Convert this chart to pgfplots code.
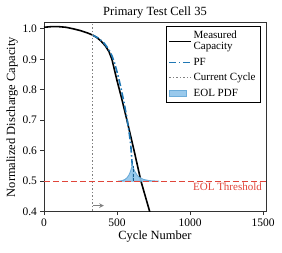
\documentclass[border=0pt]{standalone}
\usepackage{pgfplots}
\pgfplotsset{compat=1.18}
\usepackage{fontspec}
\setmainfont{Liberation Serif}
\definecolor{pfblue}{HTML}{1F77B4}
\definecolor{pdfblue}{HTML}{8EC4EA}
\definecolor{eolred}{HTML}{E0453A}
\begin{document}
\begin{tikzpicture}
\begin{axis}[
  scale only axis, width=222pt, height=189pt,
  xmin=0, xmax=1520, ymin=0.4, ymax=1.02,
  xtick={0,500,1000,1500}, ytick={0.4,0.5,0.6,0.7,0.8,0.9,1.0},
  xticklabel style={/pgf/number format/.cd, set thousands separator={}},
  yticklabel style={/pgf/number format/.cd, fixed, fixed zerofill, precision=1},
  /pgf/number format/assume math mode=true,
  tick align=outside, xtick pos=bottom, ytick pos=left,
  major tick length=3.5pt,
  ticklabel style={font=\fontsize{11.5}{13}\selectfont},
  axis line style={black!80, line width=0.8pt},
  every tick/.style={black!80, line width=0.7pt},
  title={Primary Test Cell 35}, title style={font=\fontsize{12.5}{14}\selectfont, yshift=-5pt},
  xlabel={Cycle Number}, ylabel={Normalized Discharge Capacity},
  label style={font=\fontsize{12.5}{14}\selectfont},
  xlabel style={yshift=3pt}, ylabel style={yshift=-2pt},
  legend style={at={(rel axis cs:0.975,0.98)}, anchor=north east, font=\fontsize{11}{11}\selectfont,
    draw=black, line width=0.7pt, inner sep=2.5pt, row sep=2.5pt, cells={align=left, anchor=west}},
  legend image code/.code={\draw[#1] (0cm,0cm) -- (0.75cm,0cm);},
  clip=true,
]
% Measured capacity
\addplot[black, line width=1.6pt] coordinates {
(0,1.005)(50,1.007)(100,1.007)(150,1.005)(200,1.000)(250,0.994)(300,0.986)(330,0.980)
(360,0.972)(390,0.960)(420,0.944)(445,0.925)(465,0.900)(480,0.870)(500,0.830)(530,0.775)
(568,0.700)(617,0.600)(664,0.500)(724,0.400)(760,0.340)};
\addlegendentry{Measured\\Capacity}
% PF
\addplot[pfblue, line width=1.6pt, dash pattern=on 7pt off 2.5pt on 1.5pt off 2.5pt] coordinates {
(330,0.980)(370,0.970)(410,0.954)(440,0.935)(465,0.912)(485,0.885)(505,0.850)(525,0.810)
(545,0.765)(565,0.715)(580,0.670)(594,0.620)(603,0.560)(610,0.500)};
\addlegendentry{PF}
% Current cycle
\addplot[gray, line width=1.3pt, dash pattern=on 1.3pt off 2.2pt] coordinates {(330,0.38)(330,1.05)};
\addlegendentry{Current Cycle}
% EOL PDF
\addplot[draw=pdfblue!70!pfblue, line width=0.9pt, fill=pdfblue, fill opacity=0.9, area legend] coordinates {
(507,0.500)(535,0.502)(555,0.506)(570,0.512)(582,0.521)(592,0.532)(599,0.543)(605,0.552)
(612,0.543)(622,0.532)(636,0.521)(655,0.512)(680,0.506)(720,0.502)(788,0.500)} -- cycle;
\addlegendentry{EOL PDF}
\addplot[pfblue!80!black, line width=0.9pt, dash pattern=on 3pt off 1.5pt, forget plot] coordinates {(610,0.5)(610,0.55)};
% Threshold
\addplot[eolred, line width=1.4pt, dash pattern=on 6pt off 3pt, forget plot] coordinates {(0,0.5)(1520,0.5)};
\node[anchor=north east, text=eolred, font=\fontsize{11}{12}\selectfont, inner sep=1pt] at (axis cs:1500,0.497) {EOL Threshold};
\draw[gray, line width=1.1pt, -stealth] (axis cs:335,0.42) -- (axis cs:410,0.42);
\end{axis}
\useasboundingbox ([xshift=-44pt,yshift=-41pt]current axis.south west) rectangle ([xshift=16pt,yshift=22.7pt]current axis.north east);
\end{tikzpicture}
\end{document}
